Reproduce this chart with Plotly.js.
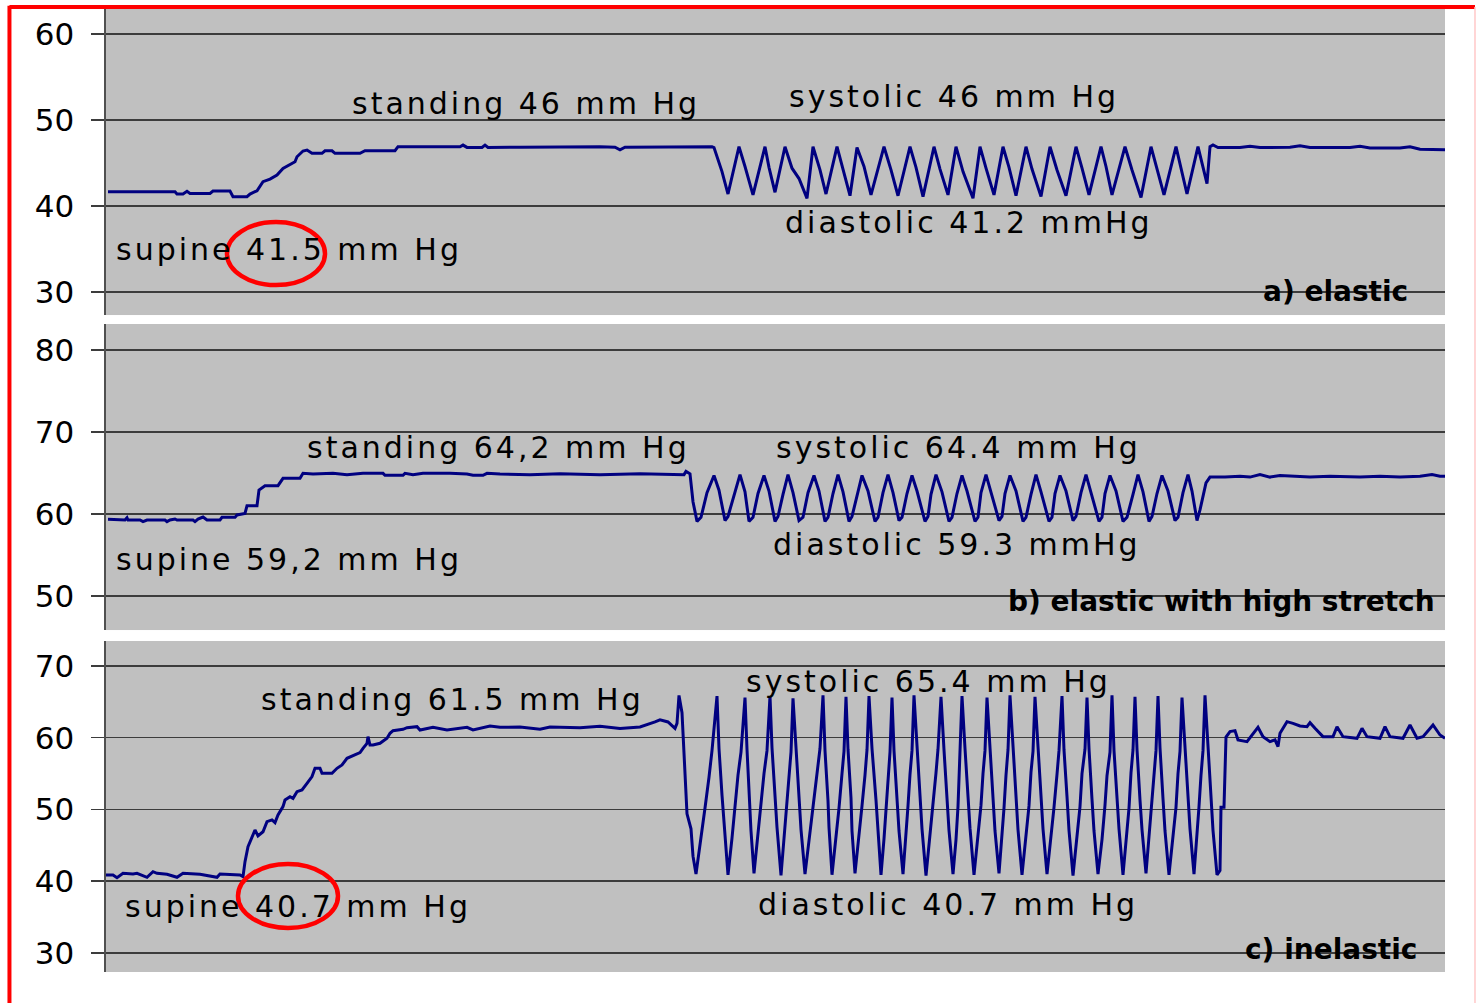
<!DOCTYPE html>
<html>
<head>
<meta charset="utf-8">
<script src="https://cdn.plot.ly/plotly-3.0.1.min.js"></script>
<style>
  html, body { margin: 0; padding: 0; background: #ffffff; }
  #chart { width: 1476px; height: 1003px; }
  .annotation-text { letter-spacing: 3px; }
  .annotation-text[style*="bold"] { letter-spacing: 0px; }
</style>
</head>
<body>
<div id="chart"></div>
<script>
// ---------- DATA (time index, pressure in mm Hg) ----------
// a) elastic
const tA = [2,69,71,77,81,84,104,107,124,127,141,144,151,157,164,171,177,186,189,191,197,201,206,216,219,226,229,254,259,289,292,354,357,361,376,379,382,414,454,494,509,514,519,554,606,
  608,616,622,633,639,647,659,663,669,679,686,693,701,707,714,720,731,737,744,751,758,765,778,785,792,804,810,817,828,834,842,850,857,867,874,880,888,897,903,910,920,926,935,944,951,960,970,976,983,995,1000,1006,1019,1026,1035,1045,1051,1058,1070,1075,1081,1092,1097,1101,
  1104,1107,1112,1134,1144,1154,1184,1194,1204,1244,1254,1264,1294,1304,1314,1339];
const pA = [41.67,41.67,41.40,41.40,41.71,41.47,41.47,41.74,41.74,41.09,41.09,41.40,41.78,42.83,43.14,43.60,44.38,44.96,45.15,45.73,46.40,46.51,46.13,46.13,46.43,46.43,46.13,46.13,46.43,46.43,46.90,46.90,47.09,46.82,46.82,47.09,46.82,46.85,46.90,46.90,46.85,46.55,46.85,46.90,46.90,
  46.8,44.0,41.4,46.9,44.6,41.3,46.9,44.5,41.6,46.9,44.4,43.2,40.9,46.9,44.2,41.4,46.9,44.3,41.2,46.8,44.6,41.3,46.9,44.2,41.2,46.9,44.5,41.1,46.9,44.3,41.3,46.9,44.0,40.9,46.9,44.4,41.3,46.9,44.5,41.2,46.9,44.3,41.1,46.9,44.2,41.2,46.9,44.4,41.3,46.9,44.6,41.3,46.9,44.2,41.0,46.9,44.4,41.3,46.9,44.5,41.4,46.9,44.5,42.6,
  46.9,47.1,46.8,46.8,46.95,46.8,46.85,47.0,46.8,46.8,46.95,46.75,46.75,46.9,46.6,46.55];

// b) elastic with high stretch
const tB = [2,19,21,22,34,37,41,59,61,64,69,71,87,89,92,97,101,104,114,116,129,131,139,141,151,153,159,172,177,194,197,207,227,241,257,277,279,297,299,307,317,344,361,367,377,381,394,424,454,494,534,578,580,584,587,
  591,595,601,608,613,619,622,628,634,639,643,647,652,658,663,669,672,677,682,687,693,697,702,708,713,719,722,727,732,737,743,746,751,756,762,769,772,777,782,787,793,796,801,806,811,819,822,825,830,836,843,846,851,856,861,869,872,875,880,885,893,896,899,904,910,917,920,925,930,935,943,946,949,954,960,967,970,975,980,985,993,996,999,1004,1010,1017,1021,1027,1032,1037,1043,1046,1051,1056,1062,1069,1072,1077,1082,1086,1091,
  1094,1100,1104,1119,1134,1144,1154,1164,1174,1189,1204,1224,1254,1274,1294,1314,1326,1334,1339];
const pB = [59.35,59.27,59.55,59.27,59.27,59.07,59.27,59.27,59.07,59.27,59.39,59.27,59.27,59.07,59.39,59.63,59.27,59.27,59.27,59.59,59.59,59.88,60.08,61.0,61.0,62.93,63.45,63.45,64.35,64.35,64.96,64.88,64.96,64.8,64.96,64.96,64.72,64.72,64.96,64.8,64.96,64.96,64.88,64.72,64.72,64.96,64.88,64.8,64.9,64.8,64.9,64.8,65.2,64.9,61.5,
  59.1,59.6,62.6,64.7,62.9,59.2,59.7,62.4,64.8,62.7,59.1,59.6,62.5,64.7,62.8,59.1,59.7,62.4,64.8,62.6,59.2,59.6,62.6,64.7,62.8,59.1,59.6,62.5,64.8,62.7,59.1,59.7,62.4,64.7,62.8,59.1,59.6,62.6,64.8,62.6,59.2,59.6,62.5,64.7,62.8,59.1,59.7,62.4,64.8,62.7,59.1,59.6,62.5,64.7,62.8,59.1,59.6,62.6,64.8,62.6,59.2,59.7,62.5,64.7,62.8,59.1,59.6,62.4,64.8,62.7,59.1,59.6,62.5,64.7,62.8,59.2,59.7,62.6,64.8,62.6,59.1,59.6,62.5,64.7,62.8,59.1,59.6,62.4,64.8,62.7,59.1,59.7,62.5,64.7,62.8,59.2,59.6,62.6,64.8,62.8,59.2,
  60.5,63.8,64.5,64.5,64.6,64.5,64.8,64.5,64.7,64.6,64.5,64.6,64.5,64.6,64.5,64.6,64.8,64.6,64.6];

// c) inelastic
const tC = [0,7,11,17,27,31,41,47,51,61,71,77,94,111,114,134,137,139,142,146,149,152,157,161,166,169,172,177,179,184,187,191,196,201,206,209,214,216,226,231,236,241,247,254,257,261,262,264,267,274,281,284,287,297,301,311,314,327,341,351,361,367,377,384,394,414,434,444,474,494,514,534,549,554,562,569,571,
  573,576,579,581,585,587,590,
  595,599,603,606,611,613,616,618,622,
  626,629,632,635,639,641,643,645,648,
  651,655,658,661,664,666,669,671,675,
  678,681,683,685,687,690,693,695,699,
  703,707,711,714,717,719,722,723,726,
  730,733,736,738,740,742,745,746,749,
  753,756,759,761,763,766,770,772,775,
  778,780,782,784,786,788,791,793,797,
  800,802,804,806,808,811,814,816,820,
  824,827,830,832,835,838,841,843,847,
  850,852,853,854,856,859,862,864,868,
  872,875,877,879,881,884,887,889,893,
  896,898,900,902,904,907,910,912,916,
  920,923,925,927,929,932,935,937,941,
  945,948,951,953,956,958,961,963,967,
  971,974,976,979,981,983,986,988,992,
  996,999,1001,1004,1006,1008,1011,1013,1017,
  1020,1023,1025,1027,1029,1031,1034,1036,1040,
  1043,1046,1048,1050,1052,1054,1057,1059,1063,
  1067,1070,1072,1074,1076,1079,1082,1084,1088,
  1091,1093,1095,1097,1099,1102,1105,1107,1111,
  1114,1115,1118,1120,1124,1129,1132,1141,1147,1152,1157,1164,1169,1172,1174,1181,1187,1194,1201,1204,1209,1217,1227,1231,1237,1251,1256,1261,1274,1279,1284,1297,1304,1311,1317,1327,1334,1339];
const pC = [40.87,40.87,40.5,41.1,41.01,41.1,40.55,41.33,41.1,40.96,40.55,41.1,40.96,40.55,41.01,40.87,40.64,42.73,44.82,46.22,47.14,46.31,46.9,48.3,48.54,48.17,49.23,50.4,51.32,51.78,51.55,52.48,52.72,53.65,54.58,55.74,55.74,55.05,55.05,55.74,56.2,57.13,57.46,57.92,58.53,59.22,60.15,58.99,59.0,59.22,59.92,60.62,60.98,61.17,61.4,61.54,61.08,61.45,61.08,61.3,61.45,61.08,61.45,61.64,61.45,61.5,61.2,61.5,61.4,61.6,61.3,61.5,62.2,62.5,62.2,61.3,62.0,
  65.9,63.5,55.2,49.4,47.3,43.5,41.0,
  45.8,50.2,54.5,58.2,65.8,58.5,52.0,48.0,40.9,
  46.0,50.5,54.8,58.0,65.6,58.4,51.5,47.0,41.1,
  45.5,50.3,55.0,58.2,65.8,58.6,51.8,47.5,40.8,
  46.2,50.6,54.5,58.0,65.5,58.3,51.5,47.2,41.0,
  45.8,50.4,55.2,58.5,65.9,58.2,51.2,47.5,40.9,
  46.0,50.2,55.0,58.1,65.7,58.4,51.6,47.0,41.1,
  46.1,50.5,54.8,58.3,65.8,58.5,51.3,47.2,40.9,
  45.9,50.3,55.0,58.0,65.6,58.2,51.5,47.0,41.0,
  46.0,50.5,54.9,58.2,65.9,58.6,51.8,47.3,40.8,
  46.2,50.3,55.1,58.4,65.7,58.3,51.4,47.1,41.0,
  45.8,50.4,54.6,58.0,65.8,58.5,51.7,47.4,40.9,
  46.0,50.6,55.0,58.2,65.6,58.2,51.3,47.0,41.1,
  46.1,50.2,54.8,58.3,65.9,58.4,51.6,47.2,40.9,
  45.9,50.5,55.2,58.1,65.7,58.6,51.5,47.3,41.0,
  46.0,50.3,54.9,58.2,65.8,58.3,51.8,47.1,40.8,
  46.2,50.4,55.0,58.4,65.6,58.5,51.4,47.0,41.0,
  45.8,50.6,54.7,58.0,65.9,58.2,51.6,47.3,40.9,
  46.0,50.2,55.1,58.3,65.7,58.4,51.3,47.2,41.1,
  46.1,50.5,54.9,58.2,65.8,58.6,51.5,47.0,40.9,
  45.9,50.3,55.0,58.1,65.6,58.3,51.7,47.3,41.0,
  46.0,50.4,54.8,58.2,65.9,58.5,51.4,47.1,40.9,
  41.5,50.3,50.3,60.1,60.85,60.99,59.69,59.45,60.62,61.45,60.15,59.45,59.69,58.76,60.62,62.24,62.01,61.64,61.54,62.1,61.31,60.15,60.15,61.54,60.15,59.92,61.31,60.15,59.92,61.54,60.15,59.92,61.78,59.92,60.15,61.78,60.38,59.92];

// tick values per panel
const ticksA = [30, 40, 50, 60];
const ticksB = [50, 60, 70, 80];
const ticksC = [30, 40, 50, 60, 70];

// label texts
const textsA = ["standing 46 mm Hg", "systolic 46 mm Hg", "diastolic 41.2 mmHg", "supine 41.5 mm Hg", "a) elastic"];
const textsB = ["standing 64,2 mm Hg", "systolic 64.4 mm Hg", "diastolic 59.3 mmHg", "supine 59,2 mm Hg", "b) elastic with high stretch"];
const textsC = ["standing 61.5 mm Hg", "systolic 65.4 mm Hg", "diastolic 40.7 mm Hg", "supine 40.7 mm Hg", "c) inelastic"];

// ---------- STYLE ----------
const lineColor = '#000080';
const gridColor = '#3c3c3c';
const tickFont = {family: 'DejaVu Sans, Verdana, sans-serif', size: 31, color: '#000000'};
const labelFont = {family: 'DejaVu Sans, Verdana, sans-serif', size: 30, color: '#000000'};
const boldFont = {family: 'DejaVu Sans, Verdana, sans-serif', size: 28, color: '#000000', weight: 'bold'};

function trace(t, p, xa, ya) {
  return {x: t, y: p, xaxis: xa, yaxis: ya, type: 'scatter', mode: 'lines',
          line: {color: lineColor, width: 3}, hoverinfo: 'skip', showlegend: false};
}

function yax(domain, range, ticks) {
  return {domain: domain, range: range, tickvals: ticks, ticks: 'outside', ticklen: 13,
          tickwidth: 1.5, tickcolor: gridColor, showgrid: true, gridcolor: gridColor, gridwidth: 1.5,
          showline: true, linecolor: '#505050', linewidth: 2.5, zeroline: false,
          tickfont: tickFont, ticklabelstandoff: 10, fixedrange: true};
}
function xax(anchor) {
  return {domain: [0, 1], anchor: anchor, range: [0, 1339], visible: false, fixedrange: true};
}

function ann(text, x, y, xr, yr, font) {
  return {text: text, x: x, y: y, xref: xr, yref: yr, showarrow: false,
          xanchor: 'center', yanchor: 'middle', font: font};
}

const annotations = [
  ann(textsA[0], 420, 51.98, 'x', 'y', labelFont),
  ann(textsA[1], 847.5, 52.79, 'x', 'y', labelFont),
  ann(textsA[2], 863, 38.14, 'x', 'y', labelFont),
  ann(textsA[3], 182.5, 35.0, 'x', 'y', labelFont),
  ann(textsA[4], 1229.5, 30.12, 'x', 'y', boldFont),
  ann(textsB[0], 392, 68.17, 'x2', 'y2', labelFont),
  ann(textsB[1], 852.5, 68.17, 'x2', 'y2', labelFont),
  ann(textsB[2], 850.5, 56.22, 'x2', 'y2', labelFont),
  ann(textsB[3], 183, 54.4, 'x2', 'y2', labelFont),
  ann(textsB[4], 1115, 49.39, 'x2', 'y2', boldFont),
  ann(textsC[0], 346.5, 65.26, 'x3', 'y3', labelFont),
  ann(textsC[1], 822, 67.77, 'x3', 'y3', labelFont),
  ann(textsC[2], 842, 36.69, 'x3', 'y3', labelFont),
  ann(textsC[3], 191.5, 36.41, 'x3', 'y3', labelFont),
  ann(textsC[4], 1225, 30.42, 'x3', 'y3', boldFont)
];

const shapes = [
  // red frame
  {type: 'line', xref: 'paper', yref: 'paper', x0: -0.0721, x1: 1.0224, y0: 1.0021, y1: 1.0021,
   line: {color: '#ff0000', width: 4}},
  {type: 'line', xref: 'paper', yref: 'paper', x0: -0.0721, x1: -0.0721, y0: 1.0035, y1: -0.05,
   line: {color: '#ff0000', width: 4}},
  {type: 'line', xref: 'paper', yref: 'paper', x0: 1.0224, x1: 1.0224, y0: 1.0021, y1: -0.05,
   line: {color: '#ffc8c8', width: 1.5}},
  // red circles around supine values
  {type: 'circle', xref: 'x', yref: 'y', x0: 121, x1: 219, y0: 30.81, y1: 38.14,
   line: {color: '#ff0000', width: 4.5}},
  {type: 'circle', xref: 'x3', yref: 'y3', x0: 132, x1: 232, y0: 33.48, y1: 42.4,
   line: {color: '#ff0000', width: 4.5}}
];

const data = [
  trace(tA, pA, 'x', 'y'),
  trace(tB, pB, 'x2', 'y2'),
  trace(tC, pC, 'x3', 'y3')
];

const layout = {
  width: 1476, height: 1003,
  margin: {l: 106, r: 31, t: 9, b: 31, pad: 0},
  paper_bgcolor: '#ffffff',
  plot_bgcolor: '#c0c0c0',
  showlegend: false,
  xaxis: xax('y'), xaxis2: xax('y2'), xaxis3: xax('y3'),
  yaxis: yax([0.6822, 1], [27.33, 62.91], ticksA),
  yaxis2: yax([0.3551, 0.6729], [45.85, 83.17], ticksB),
  yaxis3: yax([0, 0.3437], [27.35, 73.48], ticksC),
  annotations: annotations,
  shapes: shapes
};

Plotly.newPlot('chart', data, layout, {displayModeBar: false, staticPlot: true});
</script>
</body>
</html>
